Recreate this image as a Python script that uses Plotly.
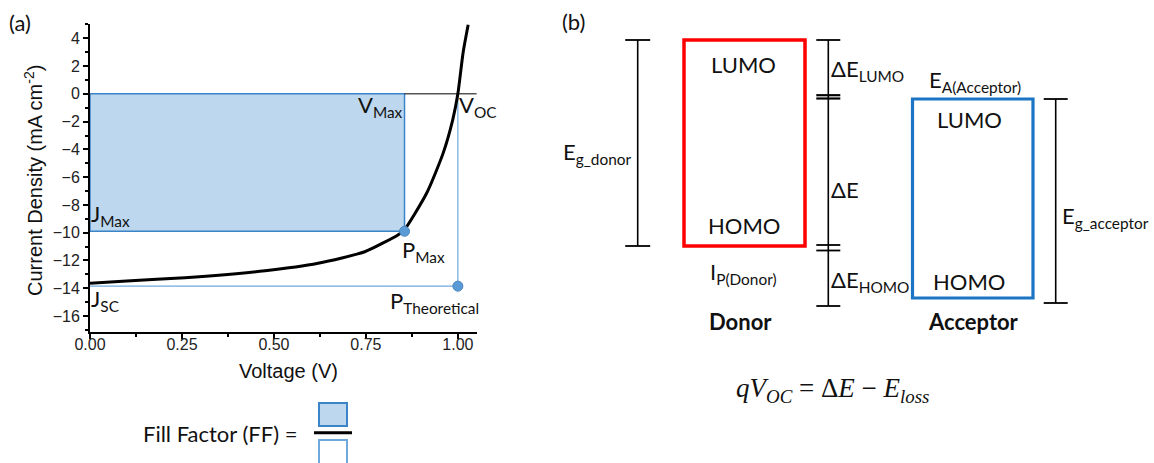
import plotly.graph_objects as go

# ---------------- data: J-V curve (panel a) ----------------
voltage = [0.0, 0.10, 0.258, 0.476, 0.62, 0.747, 0.837, 0.853, 0.915, 0.960, 0.986, 1.0, 1.014, 1.028]
current = [-13.64, -13.48, -13.24, -12.74, -12.20, -11.37, -10.16, -9.85, -7.16, -4.27, -1.87, 0.0, 2.93, 4.97]

V_max, J_max = 0.855, -9.9
V_oc, J_sc = 1.0, -13.85

x_tickvals = [0.0, 0.25, 0.50, 0.75, 1.00]
x_ticktext = ["0.00", "0.25", "0.50", "0.75", "1.00"]
y_tickvals = [4, 2, 0, -2, -4, -6, -8, -10, -12, -14, -16]

# ---------------- data: energy diagram (panel b) ----------------
level_names = ["LUMO", "HOMO"]
donor_energy = [-3.00, -5.06]      # eV (schematic)
acceptor_energy = [-3.59, -5.58]   # eV (schematic)

W, H = 1154, 463
E_TOP = -2.6          # energy at top edge of figure (schematic scale)
E_PER_PX = 0.01


def px(x):
    return x / W


def py(y):
    return 1 - y / H


def ey(p):
    return E_TOP - p * E_PER_PX


LABEL_FONT = "Lato, 'Open Sans', sans-serif"
AX_FONT = "'Liberation Sans', Arial, sans-serif"
BLUE_FILL = "#BDD7EE"
BLUE_EDGE = "#3B84C8"
BLUE_LIGHT = "#6FA8DC"
BLUE_DOT = "#5B9BD5"
FS = 22

fig = go.Figure()

# J-V curve
fig.add_trace(go.Scatter(
    x=voltage, y=current, mode="lines",
    line=dict(color="black", width=3, shape="spline", smoothing=0.6),
    hoverinfo="skip", xaxis="x", yaxis="y"))

# Points P_max and P_theoretical
fig.add_trace(go.Scatter(
    x=[V_max, V_oc], y=[J_max, J_sc], mode="markers",
    marker=dict(color=BLUE_DOT, size=10, line=dict(color="#4A86C0", width=1)),
    hoverinfo="skip", xaxis="x", yaxis="y"))

# dummy trace for the schematic axes
fig.add_trace(go.Scatter(x=[], y=[], xaxis="x3", yaxis="y3", hoverinfo="skip"))

shapes = []
# filled max-power rectangle
shapes.append(dict(type="rect", xref="x", yref="y", x0=0, x1=V_max, y0=J_max, y1=0,
                   fillcolor=BLUE_FILL, line=dict(color=BLUE_EDGE, width=1.5), layer="below"))
# theoretical rectangle edges
shapes.append(dict(type="line", xref="x", yref="y", x0=0, x1=V_oc, y0=J_sc, y1=J_sc,
                   line=dict(color=BLUE_LIGHT, width=1.2), layer="below"))
shapes.append(dict(type="line", xref="x", yref="y", x0=V_oc, x1=V_oc, y0=0, y1=J_sc,
                   line=dict(color=BLUE_LIGHT, width=1.2), layer="below"))
# zero line to the right of V_max
shapes.append(dict(type="line", xref="x", yref="y", x0=V_max, x1=1.051, y0=0, y1=0,
                   line=dict(color="black", width=1), layer="below"))

# Fill factor pictogram
shapes.append(dict(type="rect", xref="paper", yref="paper", x0=px(319), x1=px(347), y0=py(426), y1=py(403),
                   fillcolor=BLUE_FILL, line=dict(color=BLUE_EDGE, width=2)))
shapes.append(dict(type="line", xref="paper", yref="paper", x0=px(314), x1=px(352), y0=py(432.7), y1=py(432.7),
                   line=dict(color="black", width=3)))
shapes.append(dict(type="rect", xref="paper", yref="paper", x0=px(319), x1=px(347), y0=py(475), y1=py(440),
                   fillcolor="white", line=dict(color=BLUE_LIGHT, width=2)))

# ---------------- energy diagram ----------------
RED = "#FF0000"
BLUE_BOX = "#1B75C4"
# donor box
shapes.append(dict(type="rect", xref="x3", yref="y3", x0=684, x1=805,
                   y0=donor_energy[1], y1=donor_energy[0], line=dict(color=RED, width=3.5)))
# acceptor box
shapes.append(dict(type="rect", xref="x3", yref="y3", x0=912.5, x1=1033,
                   y0=acceptor_energy[1], y1=acceptor_energy[0], line=dict(color=BLUE_BOX, width=3.2)))


def vline(x, e0, e1, w=1.6):
    shapes.append(dict(type="line", xref="x3", yref="y3", x0=x, x1=x, y0=e0, y1=e1,
                       line=dict(color="black", width=w)))


def cap(xc, half, e, w=1.8):
    shapes.append(dict(type="line", xref="x3", yref="y3", x0=xc - half, x1=xc + half, y0=e, y1=e,
                       line=dict(color="black", width=w)))


# donor band gap bracket
vline(637.7, donor_energy[0], donor_energy[1])
cap(637.7, 12.5, donor_energy[0])
cap(637.7, 12.5, donor_energy[1])

# acceptor band gap bracket
acc_bottom = acceptor_energy[1] - 0.05
vline(1055.7, acceptor_energy[0], acc_bottom)
cap(1055.7, 12, acceptor_energy[0])
cap(1055.7, 12, acc_bottom)

# offsets bracket
mid_bottom = acceptor_energy[1] - 0.08
vline(828.3, donor_energy[0], mid_bottom)
cap(828.3, 12, donor_energy[0])
cap(828.3, 12, acceptor_energy[0] + 0.038, 2.2)
cap(828.3, 12, acceptor_energy[0] + 0.005, 2.2)
cap(828.3, 12, donor_energy[1] + 0.01, 1.8)
cap(828.3, 12, donor_energy[1] - 0.045, 1.8)
cap(828.3, 12, mid_bottom)

ann = []


def note(x, y, text, size=FS, xanchor="center", yanchor="middle", color="#111", family=LABEL_FONT):
    ann.append(dict(x=px(x), y=py(y), xref="paper", yref="paper", text=text, showarrow=False,
                    xanchor=xanchor, yanchor=yanchor, font=dict(size=size, color=color, family=family),
                    borderpad=0, borderwidth=0))


# panel labels
note(20, 22, "(a)")
note(573, 21, "(b)")

# axis titles
ann.append(dict(x=px(34), y=py(181), xref="paper", yref="paper", text="Current Density (mA cm<sup>-2</sup>)",
                showarrow=False, textangle=-90, xanchor="center", yanchor="middle",
                font=dict(size=20, color="#111", family=AX_FONT)))
note(288, 371, "Voltage (V)", size=20, family=AX_FONT)

# panel a labels
note(403, 106, "V<sub>Max</sub>", xanchor="right")
note(459, 106, "V<sub>OC</sub>", xanchor="left")
note(91, 215, "J<sub>Max</sub>", xanchor="left")
note(91, 300, "J<sub>SC</sub>", xanchor="left")
note(402, 251, "P<sub>Max</sub>", xanchor="left")
note(479, 302, "P<sub>Theoretical</sub>", xanchor="right")
note(143, 433, "Fill Factor (FF) =", xanchor="left")

# panel b labels
note(743.5, 64, "LUMO")
note(743.5, 225.5, "HOMO")
note(969, 119, "LUMO")
note(969, 281, "HOMO")
note(631, 153, "E<sub>g_donor</sub>", xanchor="right")
note(1062, 217, "E<sub>g_acceptor</sub>", xanchor="left")
note(831, 70, "ΔE<sub>LUMO</sub>", xanchor="left")
note(831, 189, "ΔE", xanchor="left")
note(831, 281, "ΔE<sub>HOMO</sub>", xanchor="left")
note(929, 81, "E<sub>A(Acceptor)</sub>", xanchor="left")
note(743.5, 273, "I<sub>P(Donor)</sub>")
note(740.5, 321.5, "<b>Donor</b>")
note(973, 321.5, "<b>Acceptor</b>")
note(832, 390, "<i>qV</i><sub><i>OC</i></sub> = Δ<i>E</i> − <i>E</i><sub><i>loss</i></sub>",
     size=27, family="'Liberation Serif', 'DejaVu Serif', serif")

fig.update_layout(
    width=W, height=H, autosize=False,
    margin=dict(l=0, r=0, t=0, b=0, pad=0, autoexpand=False),
    paper_bgcolor="white", plot_bgcolor="rgba(0,0,0,0)",
    showlegend=False,
    shapes=shapes,
    annotations=ann,
    xaxis=dict(
        domain=[px(90), px(477)], range=[0, 1.052], anchor="y", automargin=False,
        showline=True, linecolor="black", linewidth=2, mirror=False,
        showgrid=False, zeroline=False,
        ticks="outside", ticklen=5, tickwidth=2, tickcolor="black",
        tickvals=x_tickvals, ticktext=x_ticktext, ticklabelstandoff=-8,
        tickfont=dict(size=16, color="#222", family=AX_FONT),
        minor=dict(ticks="outside", ticklen=3, tickwidth=1.5, tickcolor="black", dtick=0.125, tick0=0,
                   showgrid=False),
    ),
    yaxis=dict(
        domain=[py(331.7), py(24)], range=[-17.13, 5.03], anchor="x", automargin=False,
        showline=True, linecolor="black", linewidth=2, mirror=False,
        showgrid=False, zeroline=False,
        ticks="outside", ticklen=5, tickwidth=2, tickcolor="black",
        tickvals=y_tickvals,
        tickfont=dict(size=16, color="#222", family=AX_FONT),
        minor=dict(ticks="outside", ticklen=3, tickwidth=1.5, tickcolor="black", dtick=1, tick0=0,
                   showgrid=False),
    ),
    xaxis3=dict(domain=[0, 1], range=[0, W], anchor="y3", visible=False, fixedrange=True, automargin=False),
    yaxis3=dict(domain=[0, 1], range=[ey(H), ey(0)], anchor="x3", visible=False, fixedrange=True,
                automargin=False),
)

fig.write_html(
    "out.html",
    config={"displayModeBar": False, "responsive": False},
    post_script="document.body.style.margin='0';document.body.style.overflow='hidden';",
)
